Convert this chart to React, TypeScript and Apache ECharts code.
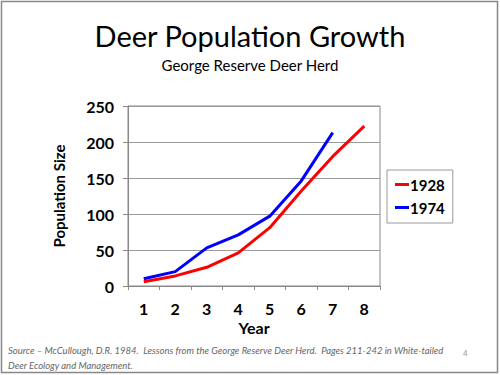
import React, { useEffect, useRef } from "react";
import * as echarts from "echarts";

const years = ["1", "2", "3", "4", "5", "6", "7", "8"];
const herd1928 = [6, 14, 26, 46, 81, 132, 180, 222];
const herd1974 = [10, 20, 53, 71, 97, 146, 213];
const yTicks = { min: 0, max: 250, interval: 50 };

const FONT = "Lato, 'Open Sans', 'DejaVu Sans', sans-serif";

export default function App() {
  const ref = useRef<HTMLDivElement>(null);
  useEffect(() => {
    if (!ref.current) return;
    const chart = echarts.init(ref.current, null, { renderer: "svg" });
    chart.setOption({
      animation: false,
      backgroundColor: "#ffffff",
      textStyle: { fontFamily: FONT },
      title: [
        {
          text: "Deer Population Growth",
          left: "center",
          top: 16,
          textStyle: { fontSize: 29, fontWeight: "normal", color: "#000", fontFamily: FONT },
        },
        {
          text: "George Reserve Deer Herd",
          left: "center",
          top: 52,
          textStyle: { fontSize: 15, fontWeight: "normal", color: "#000", fontFamily: FONT },
        },
      ],
      graphic: [
        {
          type: "rect",
          shape: { x: 1.5, y: 1.5, width: 496, height: 371 },
          style: { fill: "none", stroke: "#888", lineWidth: 1.5 },
          silent: true,
        },
        {
          type: "text",
          x: 8,
          y: 342,
          scaleX: 0.95,
          style: {
            text: "Source – McCullough, D.R. 1984.  Lessons from the George Reserve Deer Herd.  Pages 211-242 in White-tailed\nDeer Ecology and Management.",
            fontSize: 10,
            fontStyle: "italic",
            lineHeight: 15,
            fill: "#666",
            fontFamily: FONT,
          },
        },
        {
          type: "text",
          x: 463,
          y: 349,
          style: { text: "4", fontSize: 8, fill: "#999", fontFamily: FONT },
        },
      ],
      legend: {
        orient: "vertical",
        left: 387,
        top: 170,
        padding: [7, 8, 8, 8],
        itemGap: 8,
        borderColor: "#999",
        borderWidth: 1,
        itemWidth: 14,
        itemHeight: 3,
        icon: "rect",
        textStyle: { fontSize: 15, fontWeight: "bold", color: "#000", fontFamily: FONT, padding: [0, 0, 0, -4] },
        data: ["1928", "1974"],
      },
      grid: {
        left: 128,
        right: 120,
        top: 106,
        bottom: 89,
        show: true,
        borderColor: "#888",
        borderWidth: 1,
      },
      xAxis: {
        type: "category",
        data: years,
        boundaryGap: true,
        name: "Year",
        nameLocation: "middle",
        nameGap: 33,
        nameTextStyle: { fontSize: 16, fontWeight: "bold", color: "#000", fontFamily: FONT },
        axisLine: { lineStyle: { color: "#888" } },
        axisTick: { show: true, length: 4, lineStyle: { color: "#888" } },
        axisLabel: { fontSize: 16, fontWeight: "bold", color: "#000", margin: 14, fontFamily: FONT },
      },
      yAxis: {
        type: "value",
        min: yTicks.min,
        max: yTicks.max,
        interval: yTicks.interval,
        name: "Population Size",
        nameLocation: "middle",
        nameGap: 62,
        nameTextStyle: { fontSize: 15, fontWeight: "bold", color: "#000", fontFamily: FONT },
        axisLine: { show: true, lineStyle: { color: "#888" } },
        axisTick: { show: true, length: 5, lineStyle: { color: "#888" } },
        axisLabel: { fontSize: 16, fontWeight: "bold", color: "#000", margin: 14, fontFamily: FONT },
        splitLine: { lineStyle: { color: "#999" } },
      },
      series: [
        {
          name: "1928",
          type: "line",
          data: herd1928,
          symbol: "none",
          color: "#ff0000",
          lineStyle: { width: 3, color: "#ff0000" },
        },
        {
          name: "1974",
          type: "line",
          data: herd1974,
          symbol: "none",
          color: "#0000ff",
          lineStyle: { width: 3, color: "#0000ff" },
        },
      ],
    });
    return () => chart.dispose();
  }, []);
  return <div ref={ref} style={{ width: 500, height: 375, position: "fixed", left: 0, top: 0 }} />;
}
